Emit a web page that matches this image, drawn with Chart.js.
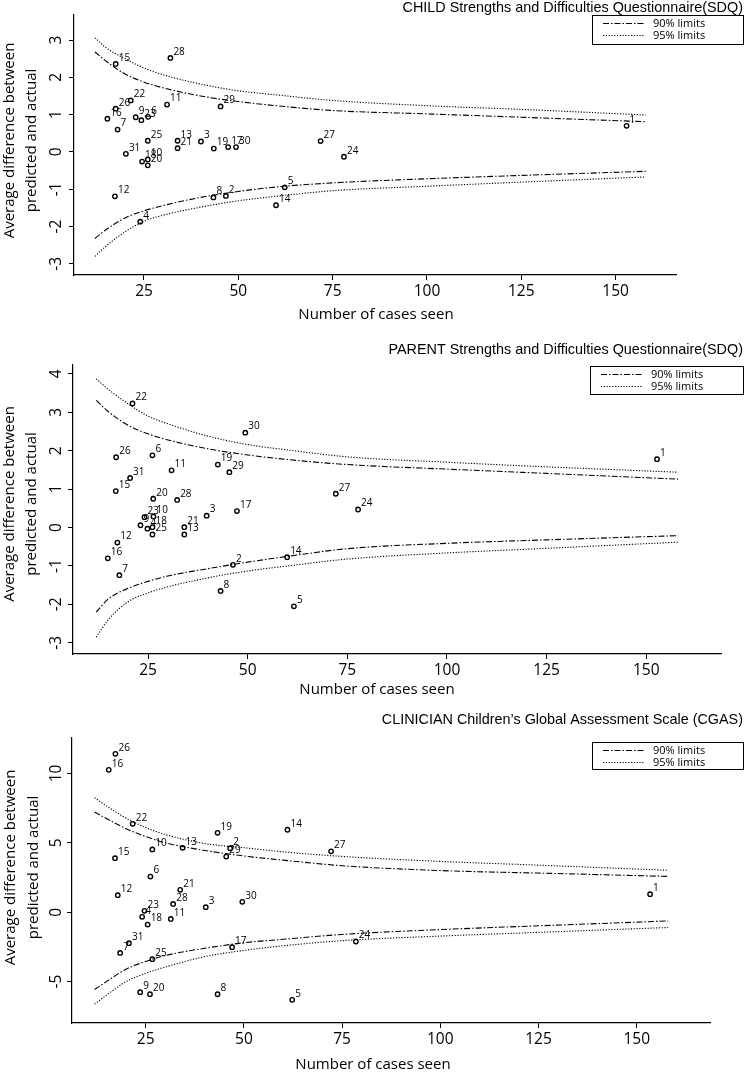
<!DOCTYPE html>
<html>
<head>
<meta charset="utf-8">
<script src="https://cdn.jsdelivr.net/npm/chart.js@4.4.1/dist/chart.umd.min.js"></script>
<style>
  html, body { margin: 0; padding: 0; background: #fff; }
  #wrap { position: relative; width: 744px; height: 1073px; }
  #wrap canvas { position: absolute; left: 0; }
</style>
</head>
<body>
<div id="wrap">
  <canvas id="childChart" width="744" height="335" style="top:0px"></canvas>
  <canvas id="parentChart" width="744" height="365" style="top:335px"></canvas>
  <canvas id="clinicianChart" width="744" height="373" style="top:700px"></canvas>
</div>
<script>
const limitCases = [12, 15, 20, 25, 30, 40, 50, 60, 75, 100, 125, 158];
const xTicks = [25, 50, 75, 100, 125, 150];

// CHILD SDQ
const childIds   = [1, 2, 3, 4, 5, 6, 7, 8, 9, 10, 11, 12, 13, 14, 15, 16, 17, 18, 19, 20, 21, 22, 23, 24, 25, 26, 27, 28, 29, 30, 31];
const childCases = [152.9, 46.7, 40.1, 24.0, 62.3, 26.1, 18.0, 43.4, 22.8, 26.0, 31.1, 17.3, 33.9, 60.0, 17.5, 15.3, 47.3, 24.5, 43.5, 26.0, 33.9, 21.5, 24.3, 78.0, 26.0, 17.5, 71.8, 32.0, 45.3, 49.4, 20.2];
const childDiff  = [0.70, -1.18, 0.28, -1.87, -0.95, 0.94, 0.60, -1.22, 0.93, -0.20, 1.27, -1.19, 0.30, -1.43, 2.36, 0.89, 0.13, -0.26, 0.09, -0.36, 0.10, 1.38, 0.85, -0.13, 0.30, 1.16, 0.29, 2.52, 1.22, 0.13, -0.05];
const childUpper95 = [3.06, 2.79, 2.50, 2.25, 2.07, 1.82, 1.64, 1.53, 1.38, 1.24, 1.14, 0.99];
const childUpper90 = [2.68, 2.43, 2.09, 1.87, 1.72, 1.50, 1.35, 1.24, 1.11, 1.02, 0.93, 0.81];
const childLower90 = [-2.32, -2.08, -1.77, -1.58, -1.44, -1.22, -1.06, -0.94, -0.83, -0.72, -0.63, -0.52];
const childLower95 = [-2.80, -2.52, -2.14, -1.86, -1.70, -1.48, -1.31, -1.19, -1.04, -0.92, -0.81, -0.67];
const childYTicks = [-3, -2, -1, 0, 1, 2, 3];

// PARENT SDQ
const parentIds   = [1, 2, 3, 4, 5, 6, 7, 8, 9, 10, 11, 12, 13, 14, 15, 16, 17, 18, 19, 20, 21, 22, 23, 24, 25, 26, 27, 28, 29, 30, 31];
const parentCases = [152.7, 46.3, 39.7, 24.85, 61.6, 26.1, 17.8, 43.2, 23.1, 26.35, 30.9, 17.3, 34.1, 59.9, 16.9, 14.9, 47.3, 26.1, 42.5, 26.3, 34.1, 21.1, 24.1, 77.7, 26.1, 17.0, 72.1, 32.3, 45.4, 49.4, 20.5];
const parentDiff  = [1.78, -0.97, 0.31, -0.03, -2.05, 1.88, -1.24, -1.65, 0.06, 0.29, 1.49, -0.39, -0.18, -0.77, 0.95, -0.80, 0.43, 0.01, 1.64, 0.75, 0.01, 3.23, 0.27, 0.47, -0.18, 1.83, 0.88, 0.72, 1.44, 2.47, 1.29];
const parentUpper95 = [3.87, 3.60, 3.22, 2.90, 2.70, 2.38, 2.16, 2.02, 1.84, 1.70, 1.58, 1.44];
const parentUpper90 = [3.31, 3.02, 2.66, 2.44, 2.28, 2.05, 1.89, 1.77, 1.64, 1.52, 1.41, 1.26];
const parentLower90 = [-2.20, -1.86, -1.58, -1.40, -1.26, -1.07, -0.90, -0.75, -0.55, -0.41, -0.32, -0.21];
const parentLower95 = [-2.85, -2.40, -1.93, -1.70, -1.54, -1.31, -1.13, -1.00, -0.82, -0.66, -0.54, -0.38];
const parentYTicks = [-3, -2, -1, 0, 1, 2, 3, 4];

// CLINICIAN CGAS
const clinIds   = [1, 2, 3, 4, 5, 6, 7, 8, 9, 10, 11, 12, 13, 14, 15, 16, 17, 18, 19, 20, 21, 22, 23, 24, 25, 26, 27, 28, 29, 30, 31];
const clinCases = [153.4, 46.5, 40.3, 24.1, 62.3, 26.2, 18.5, 43.3, 23.6, 26.7, 31.4, 17.9, 34.4, 61.1, 17.2, 15.6, 47.0, 25.5, 43.3, 26.1, 33.8, 21.7, 24.7, 78.5, 26.7, 17.3, 72.2, 32.0, 45.5, 49.6, 20.75];
const clinDiff  = [1.30, 4.61, 0.36, -0.33, -6.31, 2.57, -2.93, -5.91, -5.76, 4.52, -0.48, 1.23, 4.64, 5.94, 3.89, 10.26, -2.52, -0.89, 5.72, -5.91, 1.61, 6.37, 0.10, -2.11, -3.38, 11.41, 4.39, 0.60, 4.01, 0.75, -2.23];
const clinUpper95 = [8.25, 7.66, 6.78, 6.10, 5.60, 4.95, 4.65, 4.35, 4.02, 3.66, 3.39, 3.02];
const clinUpper90 = [7.22, 6.75, 6.02, 5.45, 5.00, 4.45, 4.05, 3.75, 3.35, 3.00, 2.82, 2.58];
const clinLower90 = [-5.57, -5.00, -4.10, -3.55, -3.12, -2.60, -2.20, -1.95, -1.60, -1.25, -0.98, -0.63];
const clinLower95 = [-6.62, -5.98, -5.00, -4.40, -3.95, -3.20, -2.75, -2.42, -2.05, -1.72, -1.45, -1.10];
const clinYTicks = [-5, 0, 5, 10];

const DASH_DOT = [6, 2, 1.5, 2];
const DOTTED = [1.2, 1.6];

Chart.defaults.font.family = '"Open Sans", "DejaVu Sans", sans-serif';
Chart.defaults.color = '#000';

// titles, legend box and axis titles
const panelText = {
    id: 'panelText',
    afterDraw(chart, args, opts) {
        const ctx = chart.ctx;
        ctx.save();
        ctx.fillStyle = '#000';
        ctx.strokeStyle = '#000';

        ctx.font = '14.4px "Liberation Sans", Arial, sans-serif';
        ctx.textAlign = 'right';
        ctx.textBaseline = 'middle';
        ctx.fillText(opts.title, 743, opts.titleY);

        // legend
        const [bx, by, bw, bh] = opts.legendBox;
        ctx.lineWidth = 1;
        ctx.setLineDash([]);
        ctx.strokeRect(bx + 0.5, by + 0.5, bw, bh);
        const rows = [['90% limits', DASH_DOT, by + 8.5], ['95% limits', DOTTED, by + 20.5]];
        ctx.font = '11px "Open Sans", sans-serif';
        ctx.textAlign = 'left';
        rows.forEach(([txt, dash, y]) => {
            ctx.setLineDash(dash);
            ctx.beginPath();
            ctx.moveTo(bx + 11, y);
            ctx.lineTo(bx + 53, y);
            ctx.stroke();
            ctx.fillText(txt, bx + 61, y);
        });
        ctx.setLineDash([]);

        // axis titles
        ctx.font = '15px "Open Sans", sans-serif';
        ctx.textAlign = 'center';
        ctx.fillText('Number of cases seen', opts.xTitle[0], opts.xTitle[1]);
        const [x1, x2, cy] = opts.yTitle;
        ctx.translate(0, cy);
        ctx.rotate(-Math.PI / 2);
        ctx.fillText('Average difference between', 0, x1);
        ctx.fillText('predicted and actual', 0, x2);
        ctx.restore();
    }
};

// case number next to each point
const pointIds = {
    id: 'pointIds',
    afterDatasetsDraw(chart, args, opts) {
        const ctx = chart.ctx;
        const meta = chart.getDatasetMeta(0);
        ctx.save();
        ctx.fillStyle = '#000';
        ctx.font = '10px "Open Sans", sans-serif';
        ctx.textAlign = 'left';
        ctx.textBaseline = 'middle';
        meta.data.forEach((pt, i) => {
            ctx.fillText(String(opts.ids[i]), pt.x + 3, pt.y - 6);
        });
        ctx.restore();
    }
};

function curve(values) {
    return limitCases.map((x, i) => ({ x: x, y: values[i] }));
}

function buildPanel(canvasId, p) {
    const points = p.cases.map((x, i) => ({ x: x, y: p.diff[i] }));
    const lineStyle = {
        showLine: true,
        pointRadius: 0,
        borderColor: '#000',
        borderWidth: 1.1,
        fill: false,
        cubicInterpolationMode: 'monotone'
    };
    return new Chart(document.getElementById(canvasId), {
        type: 'scatter',
        data: {
            datasets: [
                {
                    label: 'cases',
                    data: points,
                    pointRadius: 2.2,
                    pointBorderWidth: 1.4,
                    pointBorderColor: '#000',
                    pointBackgroundColor: 'rgba(255,255,255,0)'
                },
                Object.assign({ label: '90% upper', data: curve(p.upper90), borderDash: DASH_DOT }, lineStyle),
                Object.assign({ label: '95% upper', data: curve(p.upper95), borderDash: DOTTED }, lineStyle),
                Object.assign({ label: '90% lower', data: curve(p.lower90), borderDash: DASH_DOT }, lineStyle),
                Object.assign({ label: '95% lower', data: curve(p.lower95), borderDash: DOTTED }, lineStyle)
            ]
        },
        options: {
            responsive: false,
            animation: false,
            devicePixelRatio: 1,
            layout: { padding: p.padding },
            plugins: {
                legend: { display: false },
                tooltip: { enabled: false },
                panelText: p.text,
                pointIds: { ids: p.ids }
            },
            scales: {
                x: {
                    type: 'linear',
                    min: p.xMin,
                    max: p.xMax,
                    afterBuildTicks: (scale) => { scale.ticks = xTicks.map(v => ({ value: v })); },
                    afterFit: (scale) => { scale.height = 30; },
                    grid: { drawOnChartArea: false, tickLength: 5, color: '#000' },
                    border: { color: '#000', width: 1.2 },
                    ticks: { font: { size: 15.5 }, padding: 2, maxRotation: 0, callback: (v) => String(v) }
                },
                y: {
                    type: 'linear',
                    min: p.yMin,
                    max: p.yMax,
                    afterBuildTicks: (scale) => { scale.ticks = p.yTicks.map(v => ({ value: v })); },
                    afterFit: (scale) => { scale.width = p.leftAxis; },
                    grid: { drawOnChartArea: false, tickLength: 5, color: '#000' },
                    border: { color: '#000', width: 1.2 },
                    ticks: {
                        font: { size: 15.5 },
                        minRotation: 90,
                        maxRotation: 90,
                        crossAlign: 'center',
                        padding: p.yTickPad,
                        callback: (v) => String(v)
                    }
                }
            }
        },
        plugins: [panelText, pointIds]
    });
}

buildPanel('childChart', {
    ids: childIds, cases: childCases, diff: childDiff,
    upper95: childUpper95, upper90: childUpper90, lower90: childLower90, lower95: childLower95,
    yTicks: childYTicks,
    xMin: 6.45, xMax: 166, yMin: -3.30, yMax: 3.69,
    padding: { left: 0, top: 14, right: 68, bottom: 30 },
    leftAxis: 74,
    yTickPad: 5,
    text: {
        title: 'CHILD Strengths and Difficulties Questionnaire(SDQ)', titleY: 8,
        legendBox: [592, 15, 151, 29],
        xTitle: [376, 315],
        yTitle: [10, 32, 140.5]
    }
});

buildPanel('parentChart', {
    ids: parentIds, cases: parentCases, diff: parentDiff,
    upper95: parentUpper95, upper90: parentUpper90, lower90: parentLower90, lower95: parentLower95,
    yTicks: parentYTicks,
    xMin: 6.17, xMax: 168.75, yMin: -3.29, yMax: 4.23,
    padding: { left: 0, top: 30, right: 23, bottom: 16 },
    leftAxis: 73,
    yTickPad: 4,
    text: {
        title: 'PARENT Strengths and Difficulties Questionnaire(SDQ)', titleY: 15,
        legendBox: [590, 31, 153, 28],
        xTitle: [377, 355],
        yTitle: [10, 32, 169]
    }
});

buildPanel('clinicianChart', {
    ids: clinIds, cases: clinCases, diff: clinDiff,
    upper95: clinUpper95, upper90: clinUpper90, lower90: clinLower90, lower95: clinLower95,
    yTicks: clinYTicks,
    xMin: 6.25, xMax: 168.65, yMin: -7.98, yMax: 12.55,
    padding: { left: 0, top: 38, right: 34, bottom: 20 },
    leftAxis: 72,
    yTickPad: 2,
    text: {
        title: 'CLINICIAN Children\u2019s Global Assessment Scale (CGAS)', titleY: 20,
        legendBox: [592, 42, 151, 27],
        xTitle: [373, 365],
        yTitle: [11, 34, 167.5]
    }
});
</script>
</body>
</html>
